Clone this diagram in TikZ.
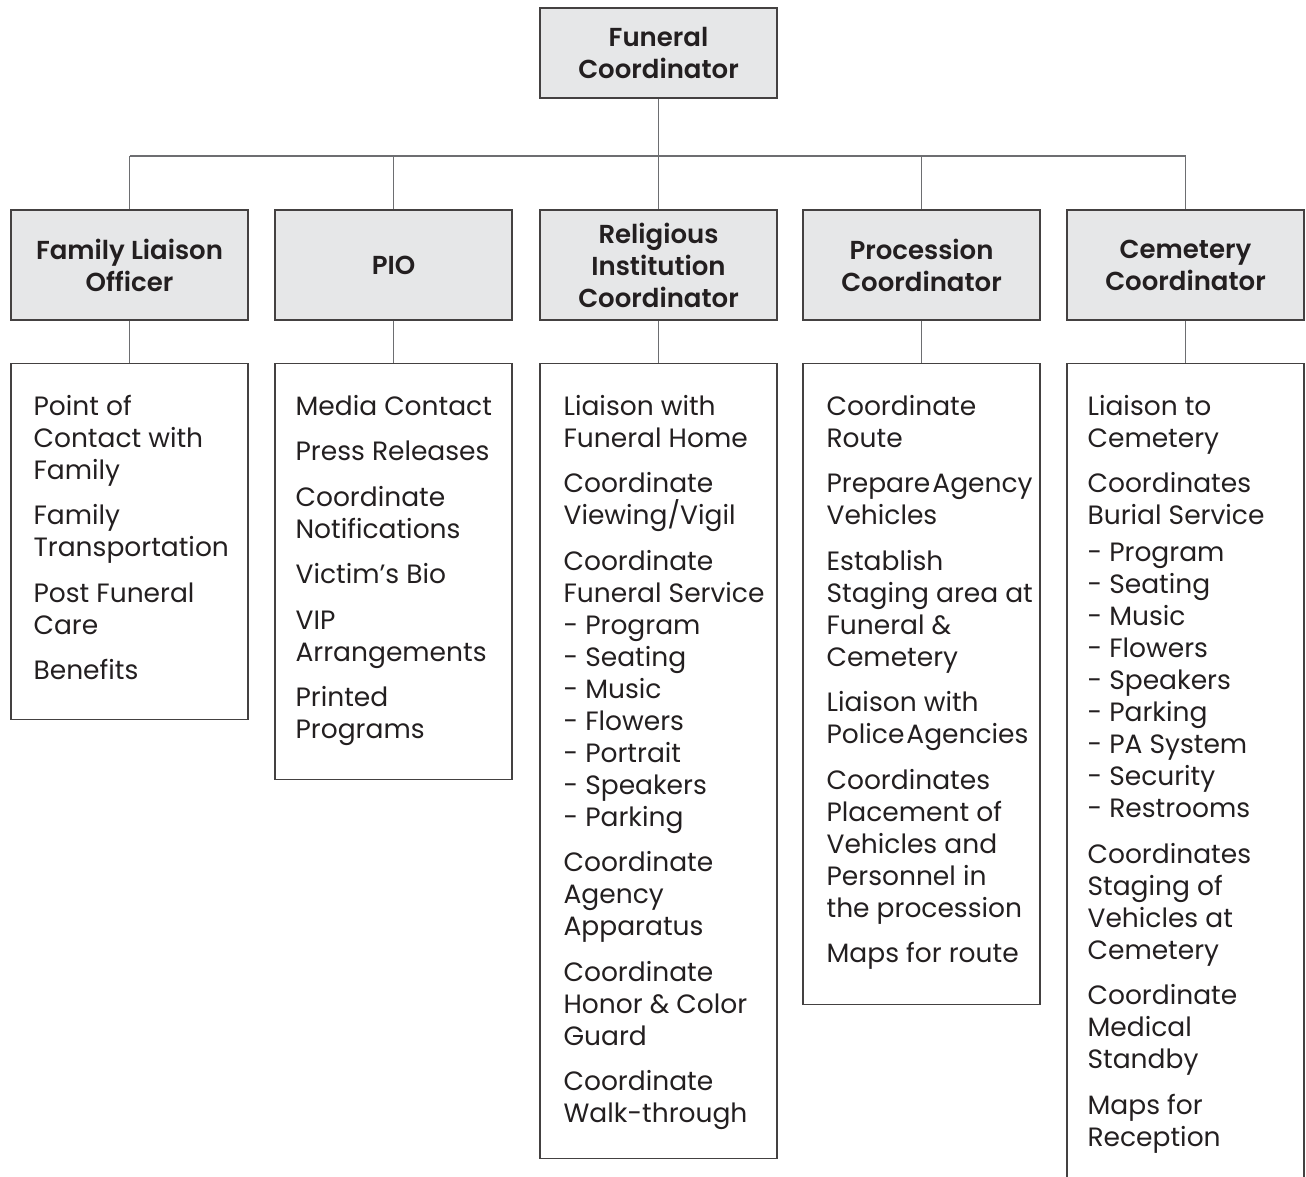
\documentclass[tikz,border=0pt]{standalone}
\usepackage{fontspec}
\setmainfont{Poppins}[BoldFont={Poppins SemiBold}]
\usetikzlibrary{positioning}
\definecolor{ink}{HTML}{231F20}
\definecolor{headfill}{HTML}{E6E7E8}
\definecolor{rulegray}{HTML}{6D6E71}

\begin{document}
\begin{tikzpicture}[x=1pt,y=-1pt,
    every node/.style={text=ink},
    headbox/.style={draw=ink!85,fill=headfill,line width=1.2pt,
        minimum width=237pt,minimum height=110pt,inner sep=0pt,
        align=center,font=\fontsize{26}{32}\selectfont\bfseries},
    listbox/.style={draw=ink!85,line width=1.2pt,minimum width=237pt,
        inner sep=0pt},
    listtext/.style={anchor=north west,align=left,inner sep=0pt,
        font=\fontsize{26.5}{32}\selectfont},
    link/.style={draw=rulegray,line width=1.2pt}]

    \useasboundingbox (0,0) rectangle (1306,1176);

    % top of the tree
    \node[headbox,minimum height=90pt] (top) at (658.5,53) {Funeral\\Coordinator};
    \coordinate (bus) at (658.5,156);

    % second row
    \node[headbox] (fam) at (129.5,265) {Family Liaison\\Officer};
    \node[headbox] (pio) at (393.5,265) {PIO};
    \node[headbox] (rel) at (658.5,265) {Religious\\Institution\\Coordinator};
    \node[headbox] (proc) at (921.5,265) {Procession\\Coordinator};
    \node[headbox] (cem) at (1185.5,265) {Cemetery\\Coordinator};

    % task lists
    \node[listbox,minimum height=356pt,below=42pt of fam] (famlist) {};
    \node[listbox,minimum height=416pt,below=42pt of pio] (piolist) {};
    \node[listbox,minimum height=795pt,below=42pt of rel] (rellist) {};
    \node[listbox,minimum height=641pt,below=42pt of proc] (proclist) {};
    \node[listbox,minimum height=840pt,below=42pt of cem] (cemlist) {};

    \node[listtext] (famtext) at ([xshift=23pt,yshift=-30pt]famlist.north west)
        {\strut Point of\\Contact with\\Family\\[13.5pt]Family\\Transportation\\[13.5pt]%
         Post Funeral\\Care\\[13.5pt]Benefits};
    \node[listtext] (piotext) at ([xshift=21pt,yshift=-30pt]piolist.north west)
        {\strut Media Contact\\[13.5pt]Press Releases\\[13.5pt]Coordinate\\Notifications\\[13.5pt]%
         Victim’s Bio\\[13.5pt]VIP\\Arrangements\\[13.5pt]Printed\\Programs};
    \node[listtext] (reltext) at ([xshift=24pt,yshift=-30pt]rellist.north west)
        {\strut Liaison with\\Funeral Home\\[13.5pt]Coordinate\\Viewing/Vigil\\[13.5pt]%
         Coordinate\\Funeral Service\\- Program\\- Seating\\- Music\\- Flowers\\- Portrait\\%
         - Speakers\\- Parking\\[13.5pt]Coordinate\\Agency\\Apparatus\\[13.5pt]%
         Coordinate\\Honor \& Color\\Guard\\[13.5pt]Coordinate\\Walk-through};
    \node[listtext] (proctext) at ([xshift=24pt,yshift=-30pt]proclist.north west)
        {\strut Coordinate\\Route\\[13.5pt]Prepare\hspace{2pt}Agency\\Vehicles\\[13.5pt]%
         Establish\\Staging area at\\Funeral \&\\Cemetery\\[13.5pt]Liaison with\\Police\hspace{2pt}Agencies\\[13.5pt]%
         Coordinates\\Placement of\\Vehicles and\\Personnel in\\the procession\\[13.5pt]Maps for route};
    \node[listtext] (cemtext) at ([xshift=21pt,yshift=-30pt]cemlist.north west)
        {\strut Liaison to\\Cemetery\\[13.5pt]Coordinates\\Burial Service\\[5pt]%
         - Program\\- Seating\\- Music\\- Flowers\\- Speakers\\- Parking\\- PA System\\%
         - Security\\- Restrooms\\[13.5pt]Coordinates\\Staging of\\Vehicles at\\Cemetery\\[13.5pt]%
         Coordinate\\Medical\\Standby\\[13.5pt]Maps for\\Reception};

    % connectors
    \draw[link] (top) -- (bus);
    \draw[link] (bus -| fam.north) -- (bus -| cem.north);
    \foreach \h in {fam,pio,rel,proc,cem}{
        \draw[link] (bus -| \h.north) -- (\h.north);
        \draw[link] (\h.south) -- (\h list.north);
    }
\end{tikzpicture}
\end{document}
